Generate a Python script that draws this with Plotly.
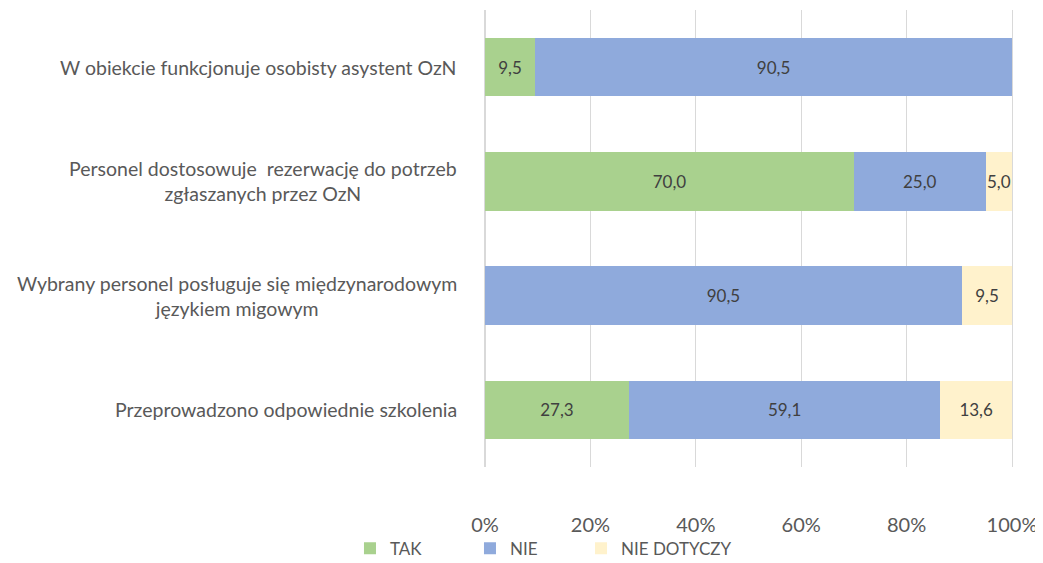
import plotly.graph_objects as go

categories = [
    "W obiekcie funkcjonuje osobisty asystent OzN",
    "Personel dostosowuje  rezerwację do potrzeb<br>zgłaszanych przez OzN",
    "Wybrany personel posługuje się międzynarodowym<br>językiem migowym",
    "Przeprowadzono odpowiednie szkolenia",
]
tak = [9.5, 70.0, 0.0, 27.3]
nie = [90.5, 25.0, 90.5, 59.1]
nie_dotyczy = [0.0, 5.0, 9.5, 13.6]
series_names = ["TAK", "NIE", "NIE DOTYCZY"]
colors = ["#A9D18E", "#8FAADC", "#FFF2CC"]
tick_vals = [0, 20, 40, 60, 80, 100]
tick_text = ["0%", "20%", "40%", "60%", "80%", "100%"]

FONT = "Lato, 'Open Sans', sans-serif"
TXT = "#595959"

def lab(v):
    return "" if v == 0 else f"{v:.1f}".replace(".", ",")

legend_ids = ["legend", "legend2", "legend3"]
legend_x = [-0.2562, -0.0285, 0.1822]

fig = go.Figure()
ids = list(range(len(categories)))
for name, vals, col, lg in zip(series_names, [tak, nie, nie_dotyczy], colors, legend_ids):
    fig.add_trace(go.Bar(
        y=ids, x=vals, name=name, orientation="h",
        marker=dict(color=col, line=dict(width=0)),
        text=[lab(v) for v in vals], textposition="inside",
        insidetextanchor="middle", textangle=0, constraintext="none",
        textfont=dict(family=FONT, size=17, color="#404040"),
        hoverinfo="skip", legend=lg, showlegend=True,
    ))

for i, c in enumerate(categories):
    fig.add_annotation(
        x=-0.05, xref="paper", y=i, yref="y", text=c, showarrow=False,
        xanchor="right", yanchor="middle", align="center",
        font=dict(family=FONT, size=19.5, color=TXT),
    )

legend_common = dict(
    orientation="h", xanchor="left", y=-0.179, yanchor="middle",
    font=dict(family=FONT, size=17, color=TXT),
    itemwidth=30, bgcolor="rgba(0,0,0,0)", visible=True,
)

fig.update_layout(
    showlegend=True,
    barmode="stack",
    bargap=0.49,
    width=1035, height=555,
    margin=dict(l=477, r=31, t=2, b=96, autoexpand=False),
    paper_bgcolor="white", plot_bgcolor="white",
    font=dict(family=FONT, color=TXT),
    legend=dict(x=legend_x[0], **legend_common),
    legend2=dict(x=legend_x[1], **legend_common),
    legend3=dict(x=legend_x[2], **legend_common),
    xaxis=dict(
        range=[0, 100], tickvals=tick_vals, ticktext=tick_text,
        showgrid=True, gridcolor="#D9D9D9", gridwidth=1,
        zeroline=True, zerolinecolor="#D9D9D9", zerolinewidth=1,
        showline=False, ticks="", automargin=False,
        tickfont=dict(family=FONT, size=20, color=TXT),
        ticklabelstandoff=44,
    ),
    yaxis=dict(
        tickvals=ids, showticklabels=False,
        showgrid=False, zeroline=False,
        showline=True, linecolor="#D9D9D9", linewidth=1, mirror=True,
        range=[3.5, -0.5], automargin=False,
    ),
)

fig.write_html("out.html")
